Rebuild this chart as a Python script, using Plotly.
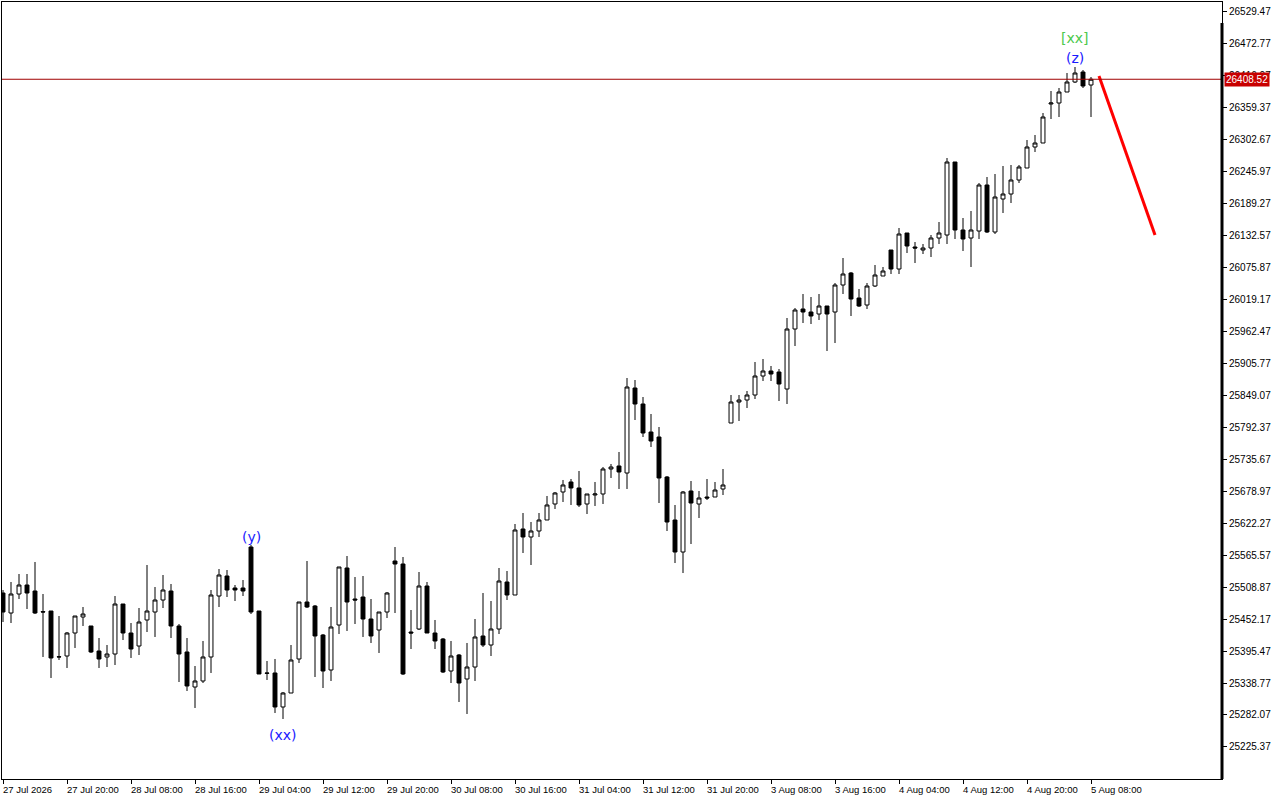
import plotly.graph_objects as go

# candle data, one entry per bar (left to right)
opens = [
    25498.23, 25462.80, 25496.46, 25512.41, 25501.78, 25465.20, 25466.34, 25384.84, 25386.61, 25427.36,
    25455.71, 25439.77, 25395.47, 25384.84, 25390.15, 25478.74, 25427.36, 25404.33, 25450.40, 25464.57,
    25485.83, 25501.78, 25439.77, 25393.70, 25331.68, 25342.32, 25384.84, 25492.92, 25528.36, 25507.09,
    25507.09, 25579.74, 25466.34, 25356.49, 25356.49, 25296.25, 25321.05, 25381.30, 25482.29, 25475.20,
    25423.82, 25361.81, 25441.54, 25542.53, 25487.60, 25491.15, 25452.17, 25432.68, 25464.57, 25554.94,
    25549.62, 25429.13, 25434.45, 25510.64, 25427.36, 25416.73, 25360.03, 25388.38, 25345.86, 25367.12,
    25422.05, 25406.10, 25434.45, 25517.72, 25494.69, 25611.64, 25597.47, 25608.10, 25627.59, 25655.94,
    25677.21, 25694.93, 25684.30, 25655.94, 25671.89, 25673.66, 25717.97, 25723.28, 25710.84, 25861.46,
    25833.11, 25783.50, 25774.64, 25703.76, 25627.56, 25570.86, 25678.95, 25655.91, 25668.32, 25668.32,
    25682.49, 25799.44, 25836.66, 25840.20, 25849.06, 25882.73, 25891.59, 25889.82, 25859.69, 25966.01,
    26001.45, 25996.14, 25992.59, 26006.77, 25996.14, 26043.98, 26065.24, 26020.94, 26008.54, 26042.21,
    26059.92, 26105.98, 26072.31, 26136.10, 26111.30, 26105.98, 26109.52, 26127.25, 26132.56, 26261.92,
    26141.42, 26127.25, 26139.65, 26221.16, 26137.88, 26196.35, 26205.21, 26230.02, 26251.27, 26288.49,
    26295.57, 26364.68, 26366.45, 26385.95, 26403.67, 26421.39, 26398.35,
]
highs = [
    25503.55, 25517.72, 25531.90, 25531.90, 25553.17, 25496.46, 25466.34, 25457.48, 25429.13, 25457.48,
    25473.43, 25439.77, 25418.50, 25406.10, 25492.92, 25478.74, 25445.08, 25471.66, 25547.85, 25508.86,
    25530.13, 25514.18, 25443.31, 25418.50, 25368.88, 25413.19, 25503.55, 25540.76, 25538.99, 25512.41,
    25521.27, 25583.29, 25466.34, 25377.75, 25381.30, 25322.82, 25406.10, 25482.29, 25554.94, 25476.97,
    25425.59, 25473.43, 25544.31, 25563.79, 25526.59, 25528.36, 25487.60, 25464.57, 25500.01, 25579.74,
    25562.02, 25468.11, 25535.45, 25517.72, 25450.40, 25418.50, 25413.19, 25390.15, 25409.65, 25452.17,
    25498.23, 25484.06, 25542.53, 25537.22, 25620.50, 25639.99, 25624.05, 25639.99, 25670.12, 25677.21,
    25698.47, 25700.24, 25714.42, 25673.66, 25694.93, 25721.51, 25726.83, 25748.09, 25879.18, 25875.64,
    25845.52, 25815.39, 25792.36, 25705.53, 25654.14, 25678.95, 25696.67, 25678.95, 25700.21, 25694.90,
    25717.93, 25849.06, 25849.06, 25856.15, 25907.54, 25912.85, 25900.45, 25895.13, 25985.50, 26003.22,
    26028.03, 26022.72, 26028.03, 26006.77, 26047.52, 26091.82, 26067.02, 26036.89, 26047.52, 26079.42,
    26075.87, 26105.98, 26144.96, 26136.10, 26120.16, 26116.61, 26132.56, 26155.60, 26269.00, 26261.92,
    26162.68, 26175.09, 26224.70, 26235.34, 26240.65, 26254.83, 26256.60, 26256.60, 26300.89, 26309.75,
    26348.73, 26387.72, 26393.03, 26419.61, 26430.25, 26424.93, 26412.53,
]
lows = [
    25446.85, 25445.08, 25487.60, 25469.88, 25461.03, 25384.84, 25347.63, 25379.52, 25365.35, 25400.79,
    25439.77, 25391.93, 25365.35, 25367.12, 25370.66, 25414.96, 25383.07, 25388.38, 25429.13, 25420.28,
    25471.66, 25418.50, 25340.54, 25324.60, 25294.48, 25338.77, 25356.49, 25473.43, 25491.15, 25484.06,
    25492.92, 25461.03, 25354.72, 25344.09, 25285.62, 25274.99, 25321.05, 25374.21, 25471.66, 25349.40,
    25329.91, 25342.32, 25425.59, 25430.91, 25443.31, 25420.28, 25409.65, 25391.93, 25453.94, 25462.80,
    25352.95, 25399.01, 25432.68, 25427.36, 25399.01, 25356.49, 25338.77, 25305.11, 25283.85, 25342.32,
    25402.56, 25386.61, 25425.59, 25485.83, 25494.69, 25569.11, 25547.85, 25597.47, 25627.59, 25647.08,
    25659.49, 25654.17, 25650.63, 25638.22, 25652.40, 25655.94, 25702.01, 25682.52, 25682.52, 25804.76,
    25774.64, 25756.92, 25657.68, 25608.07, 25551.36, 25533.64, 25585.03, 25631.10, 25663.00, 25668.32,
    25671.86, 25799.44, 25802.99, 25826.02, 25841.97, 25873.87, 25873.87, 25838.43, 25833.11, 25935.89,
    25976.64, 25974.87, 25981.96, 25927.03, 25941.20, 26028.03, 25989.05, 26004.99, 26001.45, 26040.44,
    26059.92, 26063.45, 26063.45, 26100.67, 26082.94, 26098.89, 26093.58, 26116.61, 26116.61, 26125.47,
    26104.21, 26075.86, 26125.47, 26136.10, 26134.33, 26171.54, 26189.26, 26224.70, 26251.27, 26279.63,
    26295.57, 26338.10, 26341.65, 26385.95, 26401.89, 26393.03, 26341.65,
]
closes = [
    25464.57, 25496.46, 25512.41, 25498.23, 25462.80, 25464.57, 25383.07, 25385.20, 25427.36, 25457.48,
    25461.03, 25393.70, 25381.30, 25390.15, 25478.74, 25427.36, 25399.01, 25446.85, 25466.34, 25485.83,
    25503.55, 25439.77, 25390.15, 25333.46, 25342.32, 25384.84, 25494.69, 25530.13, 25503.55, 25503.55,
    25501.78, 25464.57, 25354.72, 25356.00, 25296.25, 25321.05, 25379.52, 25482.29, 25473.43, 25422.05,
    25360.03, 25437.99, 25544.31, 25482.29, 25485.83, 25452.17, 25422.05, 25464.57, 25498.23, 25549.62,
    25354.72, 25427.36, 25510.64, 25427.36, 25413.19, 25358.26, 25386.61, 25338.77, 25367.12, 25420.28,
    25406.10, 25434.45, 25519.50, 25494.69, 25609.87, 25597.47, 25608.10, 25627.59, 25654.17, 25675.44,
    25689.61, 25684.30, 25654.17, 25673.66, 25673.66, 25717.97, 25721.51, 25712.65, 25863.24, 25833.11,
    25781.72, 25767.55, 25702.02, 25624.02, 25570.86, 25677.18, 25657.68, 25666.54, 25666.54, 25680.72,
    25689.58, 25836.66, 25840.20, 25849.06, 25882.73, 25891.59, 25886.27, 25868.55, 25966.01, 25999.68,
    25996.14, 25989.05, 26006.77, 25992.59, 26043.98, 26063.47, 26019.17, 26006.77, 26042.21, 26061.70,
    26068.78, 26072.31, 26134.33, 26113.07, 26109.52, 26109.52, 26127.25, 26136.10, 26261.92, 26141.42,
    26125.47, 26141.42, 26221.16, 26137.88, 26199.90, 26205.21, 26230.02, 26253.05, 26288.49, 26295.57,
    26341.65, 26366.45, 26385.95, 26403.67, 26419.61, 26396.58, 26408.52,
]
bar_index = list(range(len(closes)))

# time axis labels (bar index -> text)
time_tick_bars = [0, 8, 16, 24, 32, 40, 48, 56, 64, 72, 80, 88, 96, 104, 112, 120, 128, 136]
time_tick_text = [
    "27 Jul 2026", "27 Jul 20:00", "28 Jul 08:00", "28 Jul 16:00", "29 Jul 04:00",
    "29 Jul 12:00", "29 Jul 20:00", "30 Jul 08:00", "30 Jul 16:00", "31 Jul 04:00",
    "31 Jul 12:00", "31 Jul 20:00", "3 Aug 08:00", "3 Aug 16:00", "4 Aug 04:00",
    "4 Aug 12:00", "4 Aug 20:00", "5 Aug 08:00",
]

price_ticks = [
    26529.47, 26472.77, 26416.07, 26359.37, 26302.67, 26245.97, 26189.27, 26132.57,
    26075.87, 26019.17, 25962.47, 25905.77, 25849.07, 25792.37, 25735.67, 25678.97,
    25622.27, 25565.57, 25508.87, 25452.17, 25395.47, 25338.77, 25282.07, 25225.37,
]
price_tick_text = ["%.2f" % p for p in price_ticks]

current_price = 26408.52

# wave labels: (text, bar, price, colour)
wave_labels = [
    ("(y)", 31, 25597.0, "#1a1aff"),
    ("(xx)", 35, 25247.0, "#1a1aff"),
    ("(z)", 134, 26446.0, "#1a1aff"),
    ("[xx]", 134, 26482.0, "#4cc94c"),
]

# projected move
forecast_bars = [137, 144]
forecast_prices = [26414.3, 26132.5]

price_font = dict(family="Liberation Sans", size=10, color="black")
time_font = dict(family="Liberation Sans", size=9.5, color="black")

fig = go.Figure()

fig.add_trace(go.Candlestick(
    x=bar_index, open=opens, high=highs, low=lows, close=closes,
    increasing=dict(line=dict(color="black", width=1), fillcolor="white"),
    decreasing=dict(line=dict(color="black", width=1), fillcolor="black"),
    whiskerwidth=0,
    hoverinfo="skip",
    showlegend=False,
))

fig.add_trace(go.Scatter(
    x=forecast_bars, y=forecast_prices, mode="lines",
    line=dict(color="#ff0000", width=3),
    hoverinfo="skip", showlegend=False,
))

fig.add_hline(y=current_price, line=dict(color="#a00000", width=1))

# thick right edge of the chart window
fig.add_shape(type="line", xref="paper", yref="paper", x0=1, x1=1, y0=0, y1=0.973,
              line=dict(color="black", width=3))

for bar, text in zip(time_tick_bars, time_tick_text):
    fig.add_annotation(x=bar, xref="x", y=0, yref="paper", text=text,
                       showarrow=False, xanchor="left", yanchor="top",
                       xshift=-2, yshift=-3, font=time_font)

for text, bar, price, colour in wave_labels:
    fig.add_annotation(x=bar, y=price, text=text, showarrow=False,
                       font=dict(family="DejaVu Sans", size=14, color=colour))

fig.add_annotation(x=1, xref="paper", y=current_price, yref="y",
                   text="%.2f" % current_price, showarrow=False,
                   xanchor="left", xshift=2, bgcolor="#c80000", borderpad=1,
                   font=dict(family="Liberation Sans", size=10, color="white"))

fig.update_layout(
    width=1280, height=800,
    margin=dict(l=2, r=58, t=2, b=21, pad=0),
    paper_bgcolor="white", plot_bgcolor="white",
    showlegend=False,
    hovermode=False,
)
fig.update_xaxes(
    range=[-0.125, 152.375], rangeslider=dict(visible=False),
    tickvals=time_tick_bars, showticklabels=False,
    ticks="outside", ticklen=4, tickcolor="black",
    showgrid=False, zeroline=False,
    showline=True, linecolor="black", linewidth=1, mirror=True,
)
fig.update_yaxes(
    side="right", range=[25168.66, 26545.42],
    tickvals=price_ticks, ticktext=price_tick_text,
    ticks="outside", ticklen=4, tickcolor="black", tickfont=price_font,
    showgrid=False, zeroline=False,
    showline=True, linecolor="black", linewidth=1, mirror=True,
)

fig.write_html("out.html", config={"displayModeBar": False},
               post_script="document.body.style.margin='0';")
